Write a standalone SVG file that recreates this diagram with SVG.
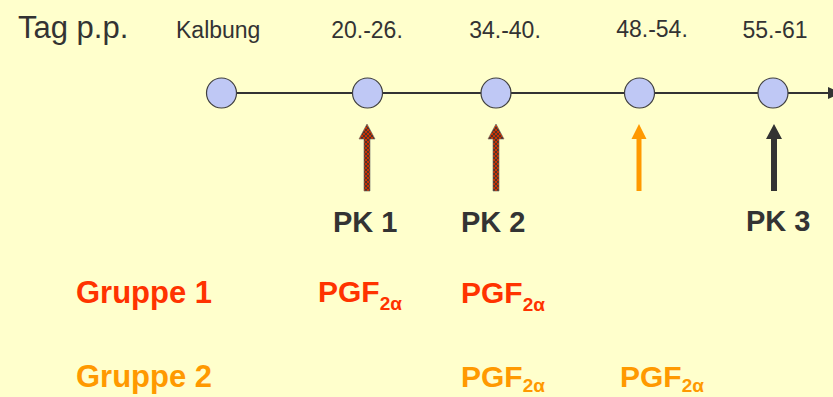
<svg xmlns="http://www.w3.org/2000/svg" width="833" height="397" viewBox="0 0 833 397">
<defs>
<style>
.t{font-family:"Liberation Sans",Arial,sans-serif;fill:#333333}
.b{font-family:"Liberation Sans",Arial,sans-serif;font-weight:bold}
.node{fill:#BFC8F5;stroke:#404040;stroke-width:1.2}
.red{fill:#FF3300}
.org{fill:#FF9900}
.dk{fill:#333333}
.sub{font-size:19px}
</style>
<pattern id="hatch" width="4" height="4" patternUnits="userSpaceOnUse">
<rect width="4" height="4" fill="#CC3300"/>
<path d="M0 0L4 4M4 0L0 4" stroke="#333333" stroke-width="0.8"/>
</pattern>
</defs>
<rect width="833" height="397" fill="#FFFFCC"/>

<g id="labels-top">
<text class="t" x="18" y="38" font-size="31">Tag p.p.</text>
<text class="t" x="176" y="38" font-size="23">Kalbung</text>
<text class="t" x="367" y="38" font-size="23" text-anchor="middle">20.-26.</text>
<text class="t" x="505" y="38" font-size="23" text-anchor="middle">34.-40.</text>
<text class="t" x="652" y="37" font-size="23" text-anchor="middle">48.-54.</text>
<text class="t" x="775" y="38" font-size="23" text-anchor="middle">55.-61</text>
</g>

<g id="connectors">
<line x1="237" y1="93" x2="830" y2="93" stroke="#333333" stroke-width="2"/>
<polygon points="828,87 842,93 828,99" fill="#333333"/>
<polygon points="364,191 364,139 359,139 367,124 375,139 370,139 370,191" fill="url(#hatch)" stroke="#666666" stroke-width="0.6"/>
<polygon points="493,191 493,139 488,139 496,124 504,139 499,139 499,191" fill="url(#hatch)" stroke="#666666" stroke-width="0.6"/>
<polygon points="636.5,191 636.5,139 631.5,139 639,124 646.5,139 641.5,139 641.5,191" fill="#FF9900"/>
<polygon points="771,191 771,139 766,139 774,124 782,139 777,139 777,191" fill="#333333"/>
</g>

<g id="n0"><circle class="node" cx="221.5" cy="93" r="15"/></g>
<g id="n1"><circle class="node" cx="367.5" cy="93" r="15"/></g>
<g id="n2"><circle class="node" cx="496" cy="93" r="15"/></g>
<g id="n3"><circle class="node" cx="639.5" cy="93" r="15"/></g>
<g id="n4"><circle class="node" cx="773" cy="93" r="15"/></g>

<g id="pk">
<text class="b dk" x="333" y="232" font-size="29">PK 1</text>
<text class="b dk" x="461" y="232" font-size="29">PK 2</text>
<text class="b dk" x="746" y="231" font-size="29">PK 3</text>
</g>

<g id="gruppe1">
<text class="b red" x="76" y="303" font-size="31">Gruppe 1</text>
<text class="b red" x="318" y="302" font-size="30">PGF<tspan class="sub" dy="8">2α</tspan></text>
<text class="b red" x="461" y="303" font-size="30">PGF<tspan class="sub" dy="8">2α</tspan></text>
</g>

<g id="gruppe2">
<text class="b org" x="76" y="387" font-size="31">Gruppe 2</text>
<text class="b org" x="461" y="387" font-size="30">PGF<tspan class="sub" dy="5">2α</tspan></text>
<text class="b org" x="620" y="387" font-size="30">PGF<tspan class="sub" dy="5">2α</tspan></text>
</g>
</svg>
